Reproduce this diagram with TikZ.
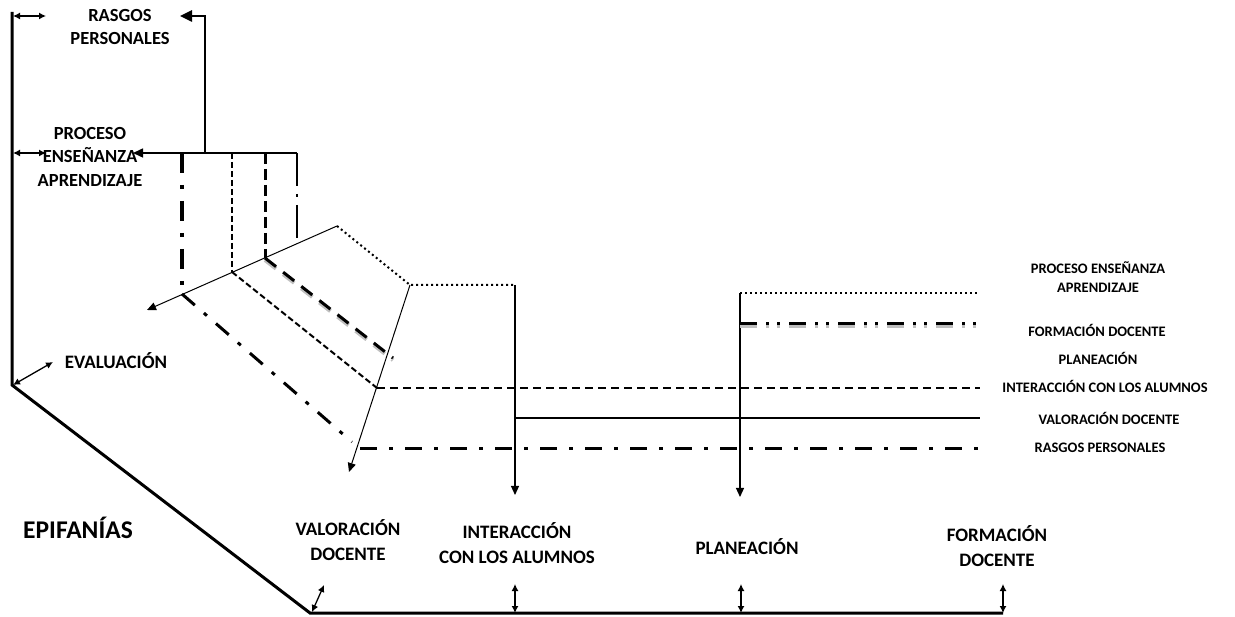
\documentclass[tikz,border=0pt]{standalone}
\usepackage{fontspec}
\setmainfont{Carlito}
\usetikzlibrary{arrows.meta,calc}
\begin{document}
\begin{tikzpicture}[x=1pt,y=-1pt,
  lbl/.style={font=\bfseries\fontsize{18.5}{23.5}\selectfont, align=center, inner sep=0pt},
  blbl/.style={font=\bfseries\fontsize{19}{25}\selectfont, align=center, inner sep=0pt},
  rlbl/.style={font=\bfseries\fontsize{14.5}{19}\selectfont, align=center, inner sep=0pt},
  big/.style={font=\bfseries\fontsize{25.5}{30}\selectfont, inner sep=0pt},
  tip/.style={-{Triangle[length=9pt,width=8pt]}},
  dbl/.style={{Latex[length=7pt,width=7pt]}-{Latex[length=7pt,width=7pt]}, line width=1.3pt},
  axis/.style={line width=3pt},
  lrasgos/.style={line width=3pt, dash pattern=on 17pt off 12pt on 4pt off 12pt},
  lform/.style={line width=3pt, dash pattern=on 17pt off 9pt on 3pt off 8pt on 3pt off 9pt},
  lproc/.style={line width=2pt, dash pattern=on 2pt off 3pt},
  linter/.style={line width=2pt, dash pattern=on 8pt off 5pt},
  lvalor/.style={line width=2pt},
  lplan/.style={line width=3pt, dash pattern=on 14pt off 9pt},
  shadow/.style={line width=4pt, draw=black!25},
  thin/.style={line width=1pt}
]
\useasboundingbox (0,0) rectangle (1235,617);

% coordinates
\coordinate (LT) at (12,12);
\coordinate (O) at (12,385);
\coordinate (B0) at (310,613);
\coordinate (BE) at (1003,613);
\coordinate (S1) at (337,226);
\coordinate (S0) at (147,310);
\coordinate (P1) at (410,285);
\coordinate (Q1) at (515,285);
\coordinate (Q2) at (515,495);
\coordinate (R1) at (740,293);
\coordinate (R2) at (740,497);
\coordinate (H0) at (297,153);
\coordinate (H1) at (133,153);
\coordinate (K0) at (205,153);
\coordinate (K1) at (205,16);
\coordinate (K2) at (180,16);
\coordinate (V1) at (182,153); \coordinate (V1b) at (182,294);
\coordinate (V2) at (232,153); \coordinate (V2b) at (232,272);
\coordinate (V3) at (265,153); \coordinate (V3b) at (265,258);
\coordinate (V4) at (297,153); \coordinate (V4b) at (297,244);
\coordinate (D1) at (352,442); \coordinate (E1) at (360,449); \coordinate (F1) at (980,449);
\coordinate (D2) at (377,388); \coordinate (F2) at (980,388);
\coordinate (D3) at (393,358);
\coordinate (E4) at (515,418); \coordinate (F4) at (980,418);
\coordinate (F5) at (977,293);
\coordinate (E6) at (740,324); \coordinate (F6) at (980,324);
\coordinate (A1) at (312,612); \coordinate (A1b) at (324,585);
\coordinate (A2) at (515,613); \coordinate (A2b) at (515,584);
\coordinate (A3) at (741,613); \coordinate (A3b) at (741,584);
\coordinate (A4) at (1003,613); \coordinate (A4b) at (1003,584);
\coordinate (T1) at (13,16); \coordinate (T1b) at (46,16);
\coordinate (T2) at (13,153); \coordinate (T2b) at (46,153);
\coordinate (T3) at (13,385); \coordinate (T3b) at (53,362);

% main axes
\draw[axis] (LT) -- (O) -- (B0) -- (BE);

% labels
\node[lbl] (rasgos) at (120,27) {RASGOS\\PERSONALES};
\node[lbl] (proceso) at (90,157) {PROCESO\\ENSEÑANZA\\APRENDIZAJE};
\node[blbl] (eval) at (116,361) {EVALUACIÓN};
\node[big] (epi) at (78,528) {EPIFANÍAS};
\node[blbl] (bvalor) at (348,540) {VALORACIÓN\\DOCENTE};
\node[blbl] (binter) at (517,543) {INTERACCIÓN\\CON LOS ALUMNOS};
\node[blbl] (bplan) at (747,547) {PLANEACIÓN};
\node[blbl] (bform) at (997,546) {FORMACIÓN\\DOCENTE};

\node[rlbl] (rproc) at (1098,277) {PROCESO ENSEÑANZA\\APRENDIZAJE};
\node[rlbl] (rform) at (1097,330) {FORMACIÓN DOCENTE};
\node[rlbl] (rplan) at (1098,358) {PLANEACIÓN};
\node[rlbl] (rinter) at (1105,386) {INTERACCIÓN CON LOS ALUMNOS};
\node[rlbl] (rvalor) at (1109,418) {VALORACIÓN DOCENTE};
\node[rlbl] (rrasgos) at (1100,448) {RASGOS PERSONALES};

% double arrows
\draw[dbl] (T1) -- (T1b);
\draw[dbl] (T2) -- (T2b);
\draw[dbl] (T3) -- (T3b);
\draw[dbl] (A1) -- (A1b);
\draw[dbl] (A2) -- (A2b);
\draw[dbl] (A3) -- (A3b);
\draw[dbl] (A4) -- (A4b);

% top-left structure
\draw[line width=2.5pt, -{Triangle[length=12pt,width=11pt]}] (K0) -- (K1) -- (K2);
\draw[line width=1.5pt, -{Triangle[length=10pt,width=9pt]}] (H0) -- (H1);

% vertical drops
\draw[lrasgos, line width=3.5pt, dash pattern=on 20pt off 12pt on 4pt off 12pt] (V1) -- (V1b);
\draw[line width=2pt, dash pattern=on 6pt off 3pt] (V2) -- (V2b);
\draw[lplan, dash pattern=on 11pt off 5pt] (V3) -- (V3b);
\draw[line width=2.5pt, dash pattern=on 33pt off 8pt on 3pt off 8pt] (V4) -- (V4b);

% slanted line
\draw[thin, tip] (S1) -- (S0);

% diagonals
\draw[lrasgos] (V1b) -- (D1);
\draw[line width=2pt, dash pattern=on 6pt off 3pt] (V2b) -- (D2);
\draw[shadow, dash pattern=on 14pt off 9pt] ($(V3b)+(0,2)$) -- ($(D3)+(0,2)$);
\draw[lplan] (V3b) -- (D3);
\draw[lproc] (S1) -- (P1) -- (Q1);
\draw[thin, tip] (P1) -- (349,472);

% verticals with arrows
\draw[line width=1.2pt, tip] (Q1) -- (Q2);
\draw[line width=1.2pt, tip] (R1) -- (R2);

% horizontals
\draw[lrasgos] (E1) -- (F1);
\draw[linter] (D2) -- (F2);
\draw[lvalor] (E4) -- (F4);
\draw[lproc] (R1) -- (F5);
\draw[shadow, dash pattern=on 17pt off 9pt on 3pt off 8pt on 3pt off 9pt] ($(E6)+(0,2)$) -- ($(F6)+(0,2)$);
\draw[lform] (E6) -- (F6);
\end{tikzpicture}
\end{document}
